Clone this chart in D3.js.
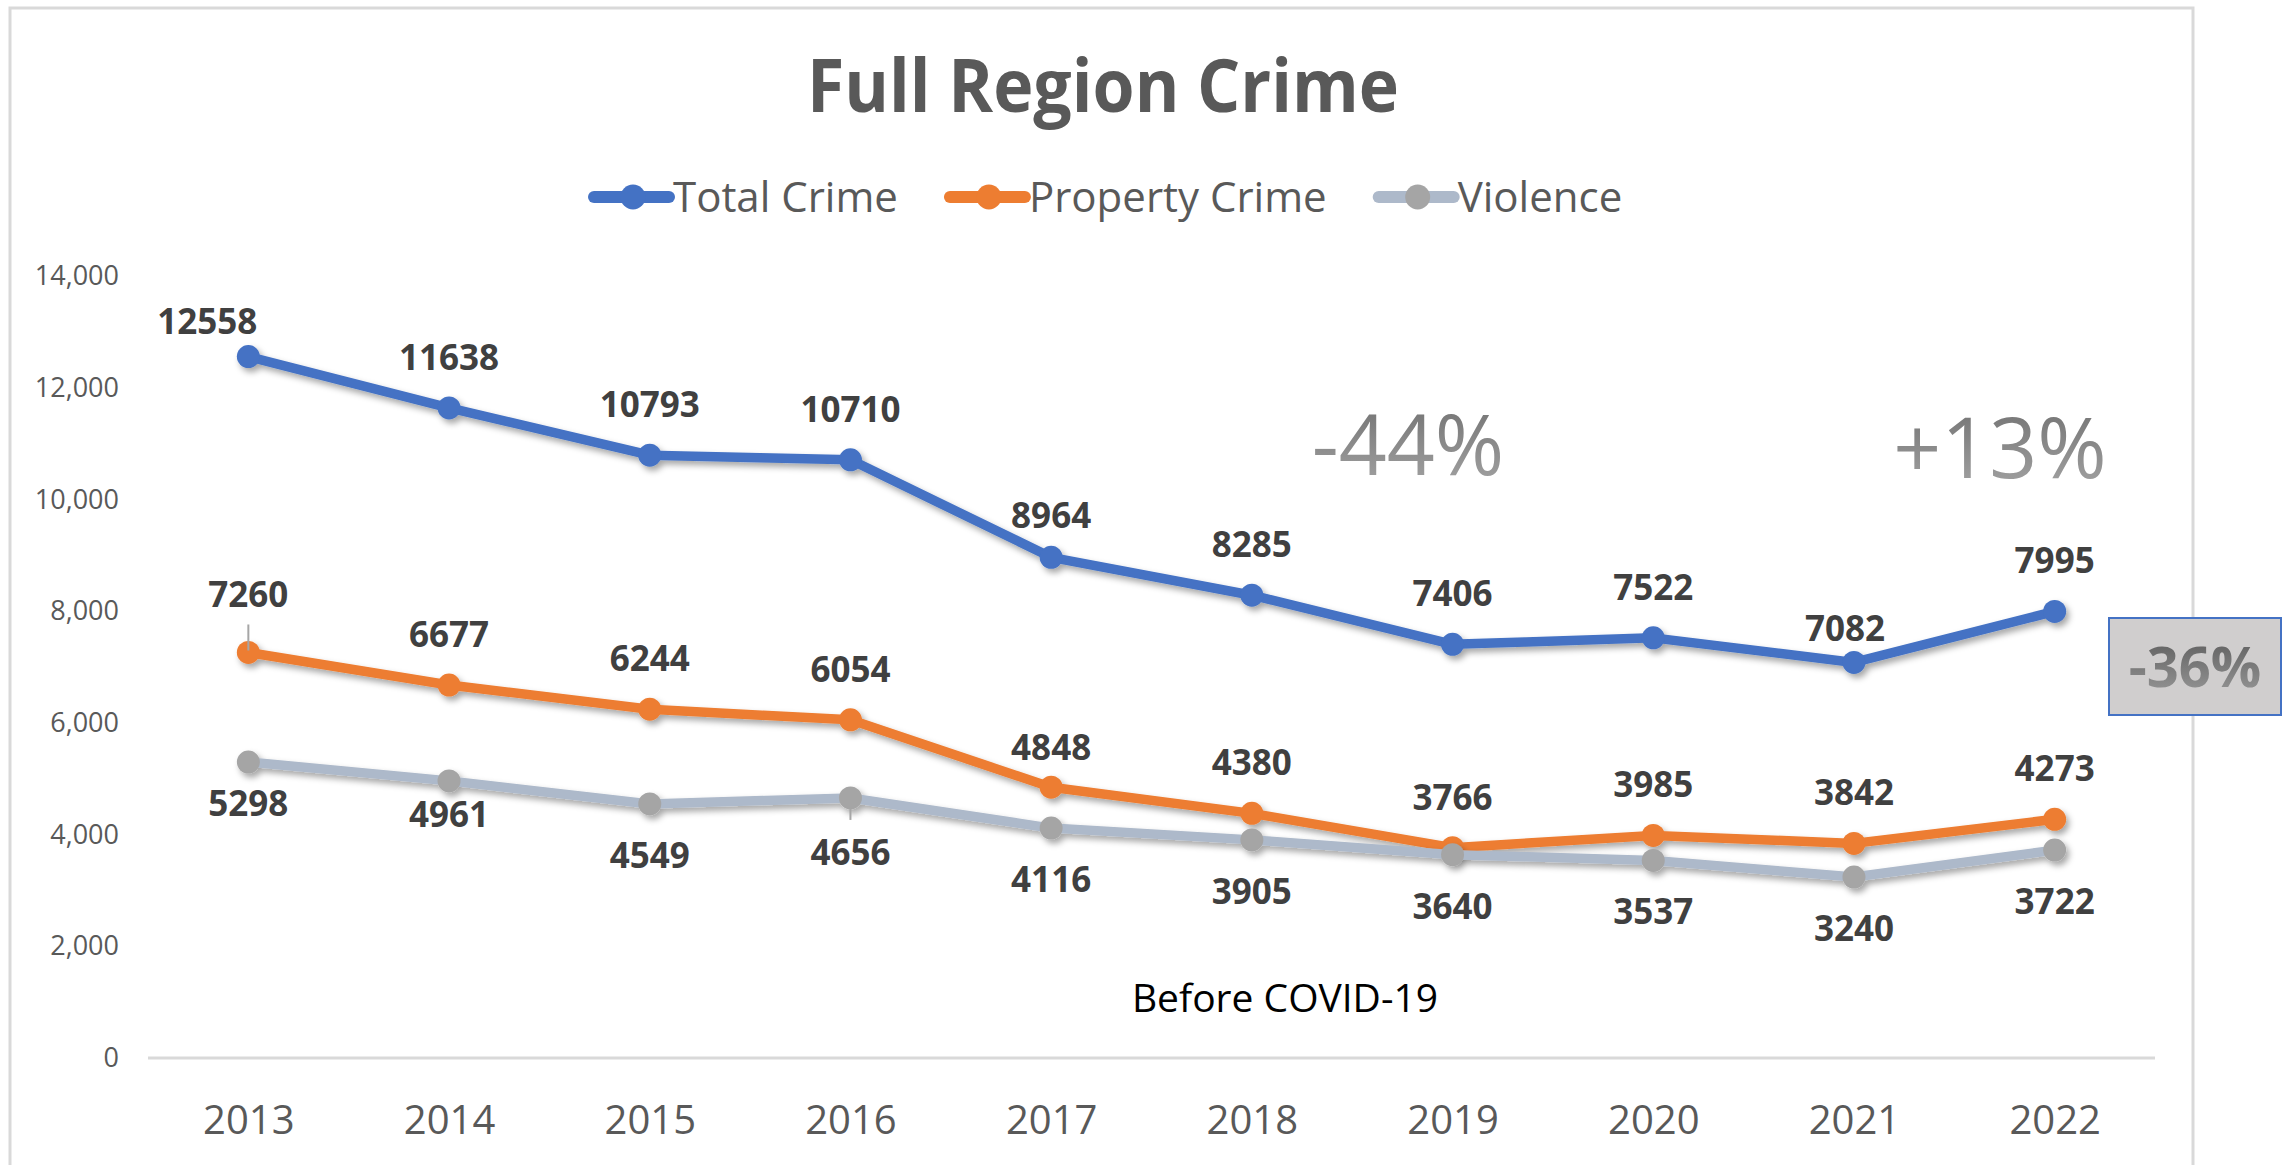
<!DOCTYPE html>
<html>
<head>
<meta charset="utf-8">
<script src="https://cdn.jsdelivr.net/npm/d3@7"></script>
<style>
  body { margin: 0; background: #fff; }
  svg { display: block; font-family: "Open Sans", "Noto Sans", sans-serif; }
</style>
</head>
<body>
<svg id="chart" width="2292" height="1165"></svg>
<script>
// data
const years = [2013, 2014, 2015, 2016, 2017, 2018, 2019, 2020, 2021, 2022];
const totalCrime = [12558, 11638, 10793, 10710, 8964, 8285, 7406, 7522, 7082, 7995];
const propertyCrime = [7260, 6677, 6244, 6054, 4848, 4380, 3766, 3985, 3842, 4273];
const violence = [5298, 4961, 4549, 4656, 4116, 3905, 3640, 3537, 3240, 3722];
const yTicks = [0, 2000, 4000, 6000, 8000, 10000, 12000, 14000];
const seriesNames = ['Total Crime', 'Property Crime', 'Violence'];

// labels that were dragged by hand in the original
const labelNudges = [
    { s: 0, i: 0, dx: -41, dy: 15 },
    { s: 0, i: 4, dx: 0, dy: 9 },
    { s: 0, i: 8, dx: -9, dy: 17 },
    { s: 1, i: 0, dx: 0, dy: -7, leader: true },
    { s: 1, i: 4, dx: 0, dy: 11 },
    { s: 2, i: 0, dx: 0, dy: -10 },
    { s: 2, i: 1, dx: 0, dy: -18 },
    { s: 2, i: 3, dx: 0, dy: 3, leader: true }
];

const series = [
    { name: seriesNames[0], values: totalCrime, line: '#4472C4', marker: '#4472C4', pos: 'above' },
    { name: seriesNames[1], values: propertyCrime, line: '#ED7D31', marker: '#ED7D31', pos: 'above' },
    { name: seriesNames[2], values: violence, line: '#ADB9CA', marker: '#A5A5A5', pos: 'below' }
];

var svg = d3.select('#chart');
var defs = svg.append('defs');

defs.append('filter').attr('id', 'shadow')
    .attr('x', '-10%').attr('y', '-10%').attr('width', '120%').attr('height', '130%')
    .append('feDropShadow')
    .attr('dx', 3).attr('dy', 4).attr('stdDeviation', 3)
    .attr('flood-color', '#000').attr('flood-opacity', 0.35);

defs.append('filter').attr('id', 'gridShadow')
    .append('feDropShadow')
    .attr('dx', 1).attr('dy', 2).attr('stdDeviation', 1.2)
    .attr('flood-color', '#000').attr('flood-opacity', 0.2);

function grayGradient(id, top, bottom) {
    var g = defs.append('linearGradient').attr('id', id)
        .attr('x1', 0).attr('y1', 0).attr('x2', 0).attr('y2', 1);
    g.append('stop').attr('offset', '0%').attr('stop-color', top);
    g.append('stop').attr('offset', '100%').attr('stop-color', bottom);
}
grayGradient('pctGrad', '#6a6a6a', '#a9a9a9');
grayGradient('boxGrad', '#555555', '#9d9d9d');

// outer chart frame
svg.append('rect')
    .attr('x', 10).attr('y', 8)
    .attr('width', 2183).attr('height', 1250)
    .attr('fill', '#fff')
    .attr('stroke', '#d9d9d9').attr('stroke-width', 3);

var plot = { left: 148, right: 2155, top: 276, bottom: 1058 };

var x = d3.scalePoint()
    .domain(years)
    .range([plot.left, plot.right])
    .padding(0.5);

var y = d3.scaleLinear()
    .domain([0, 14000])
    .range([plot.bottom, plot.top]);

// gridlines
svg.append('g')
    .selectAll('line')
    .data(yTicks)
    .join('line')
    .attr('x1', plot.left).attr('x2', plot.right)
    .attr('y1', d => y(d)).attr('y2', d => y(d))
    .attr('stroke', d => d === 0 ? '#d9d9d9' : '#858585')
    .attr('stroke-width', 3)
    .attr('filter', d => d === 0 ? null : 'url(#gridShadow)');

// y axis labels
var yAxis = svg.append('g')
    .attr('transform', 'translate(' + (plot.left - 29) + ',0)')
    .call(d3.axisLeft(y).tickValues(yTicks).tickSize(0).tickPadding(0).tickFormat(d3.format(',')));
yAxis.select('.domain').remove();
yAxis.selectAll('text')
    .attr('fill', '#595959')
    .style('font-size', '27px')
    .style('font-family', '"Open Sans", sans-serif');

// x axis labels
var xAxis = svg.append('g')
    .attr('transform', 'translate(0,' + (plot.bottom + 48) + ')')
    .call(d3.axisBottom(x).tickSize(0).tickPadding(0));
xAxis.select('.domain').remove();
xAxis.selectAll('text')
    .attr('fill', '#595959')
    .attr('dy', '0.71em')
    .style('font-size', '40px')
    .style('font-family', '"Open Sans", sans-serif');

// title
svg.append('text')
    .attr('x', 1103).attr('y', 112)
    .attr('text-anchor', 'middle')
    .attr('fill', '#595959')
    .attr('font-weight', 'bold')
    .attr('font-size', 74)
    .attr('textLength', 592)
    .attr('lengthAdjust', 'spacingAndGlyphs')
    .text('Full Region Crime');

// legend
var legend = svg.append('g');
var lx = 594;
series.forEach(function(s) {
    var item = legend.append('g').attr('transform', 'translate(' + lx + ',197)');
    item.append('line')
        .attr('x1', 0).attr('x2', 75)
        .attr('stroke', s.line).attr('stroke-width', 12)
        .attr('stroke-linecap', 'round');
    item.append('circle')
        .attr('cx', 39).attr('r', 12.5)
        .attr('fill', s.marker);
    var t = item.append('text')
        .attr('x', 79).attr('y', 15)
        .attr('fill', '#595959')
        .attr('font-size', 42)
        .text(s.name);
    lx += 79 + t.node().getComputedTextLength() + 52;
});

// series lines, markers and labels
var line = d3.line()
    .x((d, i) => x(years[i]))
    .y(d => y(d));

series.forEach(function(s, si) {
    var g = svg.append('g').attr('id', 'series' + si);
    var shadowed = g.append('g').attr('filter', 'url(#shadow)');
    shadowed.append('path')
        .datum(s.values)
        .attr('d', line)
        .attr('fill', 'none')
        .attr('stroke', s.line)
        .attr('stroke-width', 9.5)
        .attr('stroke-linejoin', 'round');
    shadowed.selectAll('circle')
        .data(s.values)
        .join('circle')
        .attr('cx', (d, i) => x(years[i]))
        .attr('cy', d => y(d))
        .attr('r', 11.5)
        .attr('fill', s.marker);
});

// data labels on top of everything
series.forEach(function(s, si) {
    var g = svg.append('g');
    s.values.forEach(function(v, i) {
        var nudge = labelNudges.find(n => n.s === si && n.i === i) || { dx: 0, dy: 0 };
        var px = x(years[i]);
        var py = y(v);
        var base = s.pos === 'above' ? py - 38 : py + 64;
        var ty = base + nudge.dy;
        if (nudge.leader) {
            var y1 = s.pos === 'above' ? ty + 17 : py + 11;
            var y2 = s.pos === 'above' ? py - 2 : ty - 45;
            g.append('line')
                .attr('x1', px).attr('x2', px)
                .attr('y1', y1).attr('y2', y2)
                .attr('stroke', '#a6a6a6').attr('stroke-width', 2);
        }
        g.append('text')
            .attr('x', px + nudge.dx)
            .attr('y', ty)
            .attr('text-anchor', 'middle')
            .attr('fill', '#404040')
            .attr('font-weight', 'bold')
            .attr('font-size', 35)
            .text(v);
    });
});

// annotations
svg.append('text')
    .attr('x', 1408).attr('y', 475)
    .attr('text-anchor', 'middle')
    .attr('fill', 'url(#pctGrad)')
    .attr('font-size', 84)
    .text('-44%');

svg.append('text')
    .attr('x', 2000).attr('y', 478)
    .attr('text-anchor', 'middle')
    .attr('fill', 'url(#pctGrad)')
    .attr('font-size', 84)
    .text('+13%');

svg.append('rect')
    .attr('x', 2109).attr('y', 618)
    .attr('width', 172).attr('height', 97)
    .attr('fill', '#d0cece')
    .attr('stroke', '#4472C4').attr('stroke-width', 2);

svg.append('text')
    .attr('x', 2195).attr('y', 687)
    .attr('text-anchor', 'middle')
    .attr('fill', 'url(#boxGrad)')
    .attr('font-weight', 'bold')
    .attr('font-size', 56)
    .text('-36%');

svg.append('text')
    .attr('x', 1285).attr('y', 1012)
    .attr('text-anchor', 'middle')
    .attr('fill', '#000')
    .attr('font-size', 39)
    .text('Before COVID-19');
</script>
</body>
</html>
